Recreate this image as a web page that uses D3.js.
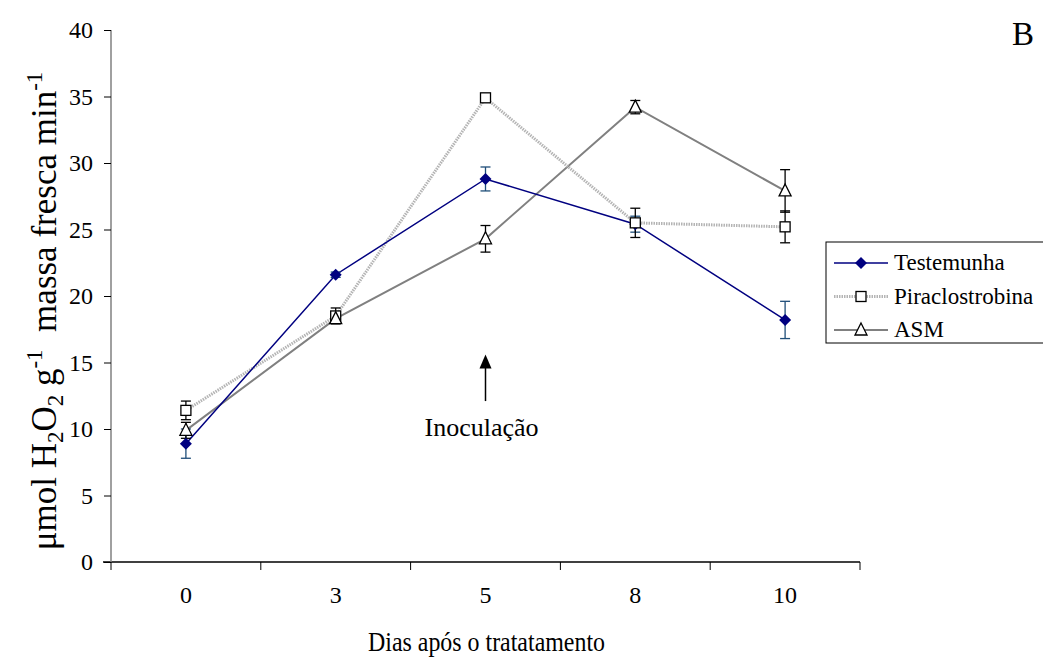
<!DOCTYPE html>
<meta charset="utf-8">
<script src="https://d3js.org/d3.v7.min.js"></script>
<style>
  body { margin: 0; background: #fff; }
  text { font-family: "Liberation Serif", "Times New Roman", serif; fill: #000; }
</style>
<div id="my_dataviz"></div>
<script>
  // data
  var dias = ["0", "3", "5", "8", "10"];
  var testemunha = [8.9, 21.6, 28.8, 25.4, 18.2];
  var testemunhaErr = [1.1, 0.2, 0.9, 0.6, 1.4];
  var piraclostrobina = [11.4, 18.5, 34.9, 25.5, 25.2];
  var piraclostrobinaErr = [0.7, 0.6, 0.3, 1.1, 1.2];
  var asm = [9.9, 18.3, 24.3, 34.2, 27.9];
  var asmErr = [0.6, 0.3, 1.0, 0.5, 1.6];
  var yTicks = [0, 5, 10, 15, 20, 25, 30, 35, 40];

  var margin = {top: 30, left: 111},
      width = 749, height = 532;

  var svg = d3.select("#my_dataviz")
    .append("svg")
      .attr("width", 1043)
      .attr("height", 660);

  var g = svg.append("g")
    .attr("transform", "translate(" + margin.left + "," + margin.top + ")");

  var x = d3.scaleBand().domain(dias).range([0, width]);
  var y = d3.scaleLinear().domain([0, 40]).range([height, 0]);

  // X axis
  var xAxis = g.append("g")
    .attr("transform", "translate(0," + height + ")")
    .call(d3.axisBottom(x).tickSize(0).tickPadding(24));
  xAxis.select(".domain").remove();
  xAxis.selectAll("text").style("font-size", "24px").attr("font-family", null);
  g.append("line")
    .attr("x1", -8).attr("x2", width)
    .attr("y1", height).attr("y2", height)
    .attr("stroke", "#000").attr("stroke-width", 1.5);
  g.append("g").selectAll("line")
    .data(dias.concat(["end"]))
    .enter().append("line")
      .attr("x1", function (d, i) { return i * x.step(); })
      .attr("x2", function (d, i) { return i * x.step(); })
      .attr("y1", height).attr("y2", height + 8)
      .attr("stroke", "#000");

  // Y axis
  var yAxis = g.append("g")
    .call(d3.axisLeft(y).tickValues(yTicks).tickSize(7).tickPadding(11));
  yAxis.select(".domain").attr("stroke", "#808080").attr("stroke-width", 1.5)
    .attr("d", "M0,0V" + height);
  yAxis.selectAll(".tick line").attr("stroke", "#000");
  yAxis.selectAll("text").style("font-size", "24px").attr("font-family", null);

  var series = [
    {name: "Testemunha", values: testemunha, err: testemunhaErr, color: "#000080",
     width: 1.5, dash: null, marker: "diamond", errColor: "#1f4e79"},
    {name: "Piraclostrobina", values: piraclostrobina, err: piraclostrobinaErr, color: "#b4b4b4",
     width: 3, dash: "1.5,1", marker: "square", errColor: "#000"},
    {name: "ASM", values: asm, err: asmErr, color: "#808080",
     width: 2, dash: null, marker: "triangle", errColor: "#000"}
  ];

  var cx = function (i) { return x(dias[i]) + x.bandwidth() / 2; };

  var line = d3.line()
    .x(function (d, i) { return cx(i); })
    .y(function (d) { return y(d); });

  // lines
  series.slice().reverse().forEach(function (s) {
    g.append("path")
      .datum(s.values)
      .attr("fill", "none")
      .attr("stroke", s.color)
      .attr("stroke-width", s.width)
      .attr("stroke-dasharray", s.dash)
      .attr("d", line);
  });

  function drawMarker(sel, type, px, py, color) {
    if (type === "diamond") {
      sel.append("path")
        .attr("d", "M" + px + "," + (py - 6) + "L" + (px + 6) + "," + py + "L" + px + "," + (py + 6) + "L" + (px - 6) + "," + py + "Z")
        .attr("fill", color);
    } else if (type === "square") {
      sel.append("rect")
        .attr("x", px - 5).attr("y", py - 5)
        .attr("width", 10).attr("height", 10)
        .attr("fill", "#fff").attr("stroke", "#000").attr("stroke-width", 1.3);
    } else {
      sel.append("path")
        .attr("d", "M" + px + "," + (py - 7) + "L" + (px + 6) + "," + (py + 5) + "L" + (px - 6) + "," + (py + 5) + "Z")
        .attr("fill", "#fff").attr("stroke", "#000").attr("stroke-width", 1.3);
    }
  }

  // error bars and markers
  series.forEach(function (s) {
    var eg = g.append("g").attr("stroke", s.errColor).attr("stroke-width", 1.3);
    s.values.forEach(function (v, i) {
      var top = y(v + s.err[i]), bot = y(v - s.err[i]);
      eg.append("line").attr("x1", cx(i)).attr("x2", cx(i)).attr("y1", top).attr("y2", bot);
      eg.append("line").attr("x1", cx(i) - 5).attr("x2", cx(i) + 5).attr("y1", top).attr("y2", top);
      eg.append("line").attr("x1", cx(i) - 5).attr("x2", cx(i) + 5).attr("y1", bot).attr("y2", bot);
    });
  });
  series.forEach(function (s) {
    var mg = g.append("g");
    s.values.forEach(function (v, i) { drawMarker(mg, s.marker, cx(i), y(v), s.color); });
  });

  // inoculation arrow
  var ax = cx(2);
  g.append("line")
    .attr("x1", ax).attr("x2", ax)
    .attr("y1", y(12.1)).attr("y2", y(14.9))
    .attr("stroke", "#000").attr("stroke-width", 1.5);
  g.append("path")
    .attr("d", "M" + ax + "," + (y(15.6)) + "l-6,14h12Z")
    .attr("fill", "#000");
  g.append("text")
    .attr("x", ax - 4).attr("y", y(9.45))
    .attr("text-anchor", "middle")
    .style("font-size", "26px")
    .text("Inoculação");

  // axis titles
  svg.append("text")
    .attr("x", 368).attr("y", 651)
    .attr("textLength", 237)
    .attr("lengthAdjust", "spacingAndGlyphs")
    .style("font-size", "28px")
    .text("Dias após o tratatamento");

  var yt = svg.append("text")
    .attr("transform", "translate(56," + 311 + ") rotate(-90)")
    .attr("text-anchor", "middle")
    .attr("xml:space", "preserve")
    .style("font-size", "35px");
  yt.append("tspan").text("μmol H");
  yt.append("tspan").attr("dy", 7).style("font-size", "23px").text("2");
  yt.append("tspan").attr("dy", -7).text("O");
  yt.append("tspan").attr("dy", 7).style("font-size", "23px").text("2");
  yt.append("tspan").attr("dy", -7).text(" g");
  yt.append("tspan").attr("dy", -14).style("font-size", "23px").text("-1");
  yt.append("tspan").attr("dy", 14).text("  massa fresca min");
  yt.append("tspan").attr("dy", -14).style("font-size", "23px").text("-1");

  // panel letter
  svg.append("text")
    .attr("x", 1012).attr("y", 45)
    .style("font-size", "33px")
    .text("B");

  // legend
  var lg = svg.append("g").attr("transform", "translate(826,242)");
  lg.append("rect")
    .attr("x", 0).attr("y", 0).attr("width", 230).attr("height", 101)
    .attr("fill", "#fff").attr("stroke", "#000").attr("stroke-width", 1);
  series.forEach(function (s, i) {
    var ly = 21 + i * 33.5;
    lg.append("line")
      .attr("x1", 8).attr("x2", 62).attr("y1", ly).attr("y2", ly)
      .attr("stroke", s.color).attr("stroke-width", s.width)
      .attr("stroke-dasharray", s.dash);
    drawMarker(lg, s.marker, 35, ly, s.color);
    lg.append("text")
      .attr("x", 68).attr("y", ly + 7)
      .style("font-size", "23px")
      .text(s.name);
  });
</script>
